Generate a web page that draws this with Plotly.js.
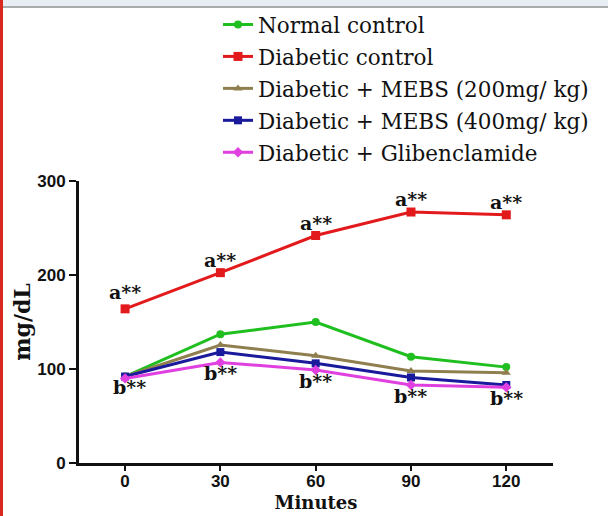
<!DOCTYPE html>
<html>
<head>
<meta charset="utf-8">
<script src="https://cdn.plot.ly/plotly-3.0.1.min.js"></script>
<style>
  html, body { margin: 0; padding: 0; background: #ffffff; }
  #chart { width: 608px; height: 516px; }
</style>
</head>
<body>
<div id="chart"></div>
<script>
const minutes = [0, 30, 60, 90, 120];
const seriesNames = [
  "Normal control",
  "Diabetic control",
  "Diabetic + MEBS (200mg/ kg)",
  "Diabetic + MEBS (400mg/ kg)",
  "Diabetic + Glibenclamide"
];
const normalControl = [92, 137, 150, 113, 102];
const diabeticControl = [164, 202.5, 242, 267, 264];
const mebs200 = [92, 125.5, 114, 98, 96];
const mebs400 = [92, 118, 106, 91, 83];
const glibenclamide = [90, 107, 99, 83, 80.5];
const upperLabels = ["a**", "a**", "a**", "a**", "a**"];
const lowerLabels = ["b**", "b**", "b**", "b**", "b**"];
const yTicks = [0, 100, 200, 300];

const colors = ["#1fbf1f", "#e31a1c", "#8f7f4f", "#1a1a9c", "#e040e0"];
const symbols = ["circle", "square", "triangle-up", "square", "diamond"];
const allValues = [normalControl, diabeticControl, mebs200, mebs400, glibenclamide];

const traces = allValues.map((vals, i) => ({
  x: minutes,
  y: vals,
  name: seriesNames[i],
  type: "scatter",
  mode: "lines+markers",
  legendgroup: "g" + i,
  line: { color: colors[i], width: 3 },
  marker: { color: colors[i], symbol: symbols[i], size: i === 1 ? 9 : 8 }
}));

const annFont = { family: "DejaVu Serif", size: 19, color: "#111111", weight: "bold" };
const annotations = [];
minutes.forEach((m, i) => {
  annotations.push({
    x: m, y: diabeticControl[i], xref: "x", yref: "y",
    text: "<b>" + upperLabels[i] + "</b>", showarrow: false,
    yshift: i === 0 ? 17 : 13, font: annFont
  });
  annotations.push({
    x: m, y: glibenclamide[i], xref: "x", yref: "y",
    text: "<b>" + lowerLabels[i] + "</b>", showarrow: false,
    xshift: i === 0 ? 4 : 0,
    yshift: i === 0 ? -9 : -11, font: annFont
  });
});

const shapes = [
  { type: "rect", xref: "paper", yref: "paper",
    x0: -0.2, x1: 1.2, y0: (463 - 6) / 282, y1: (463 + 2) / 282,
    fillcolor: "#e7edf3", line: { width: 0 }, layer: "below" },
  { type: "rect", xref: "paper", yref: "paper",
    x0: -0.2, x1: 1.2, y0: (463 - 8) / 282, y1: (463 - 6) / 282,
    fillcolor: "#a9abad", line: { width: 0 }, layer: "below" },
  { type: "rect", xref: "paper", yref: "paper",
    x0: -79 / 474, x1: -76 / 474, y0: -0.3, y1: 1.7,
    fillcolor: "#d9281f", line: { width: 0 }, layer: "below" }
];

const layout = {
  width: 608, height: 516,
  margin: { l: 79, r: 55, t: 181, b: 53, autoexpand: false },
  paper_bgcolor: "#ffffff",
  plot_bgcolor: "#ffffff",
  showlegend: true,
  legend: {
    x: (218 - 79) / 474, xanchor: "left",
    y: (463 - 4) / 282, yanchor: "top",
    font: { family: "DejaVu Serif", size: 21.5, color: "#111111" },
    tracegroupgap: 1,
    traceorder: "grouped",
    bgcolor: "rgba(0,0,0,0)",
    itemwidth: 30
  },
  xaxis: {
    range: [-14.5, 134.7],
    tickvals: minutes,
    ticktext: minutes.map(String),
    showgrid: false, zeroline: false,
    showline: true, linecolor: "#111111", linewidth: 3,
    ticks: "outside", ticklen: 5, tickwidth: 2, tickcolor: "#111111",
    ticklabelstandoff: -4,
    tickfont: { family: "Liberation Sans", size: 17, color: "#111111", weight: "bold" },
    title: { text: "<b>Minutes</b>", font: { family: "DejaVu Serif", size: 18, color: "#111111" }, standoff: 6 }
  },
  yaxis: {
    range: [0, 300],
    tickvals: yTicks,
    showgrid: false, zeroline: false,
    showline: true, linecolor: "#111111", linewidth: 3,
    ticks: "outside", ticklen: 7, tickwidth: 2, tickcolor: "#111111",
    tickfont: { family: "Liberation Sans", size: 17, color: "#111111", weight: "bold" },
    title: { text: "<b>mg/dL</b>", font: { family: "DejaVu Serif", size: 22, color: "#111111" }, standoff: 1 }
  },
  annotations: annotations,
  shapes: shapes
};

Plotly.newPlot("chart", traces, layout, { displayModeBar: false, staticPlot: true });
</script>
</body>
</html>
